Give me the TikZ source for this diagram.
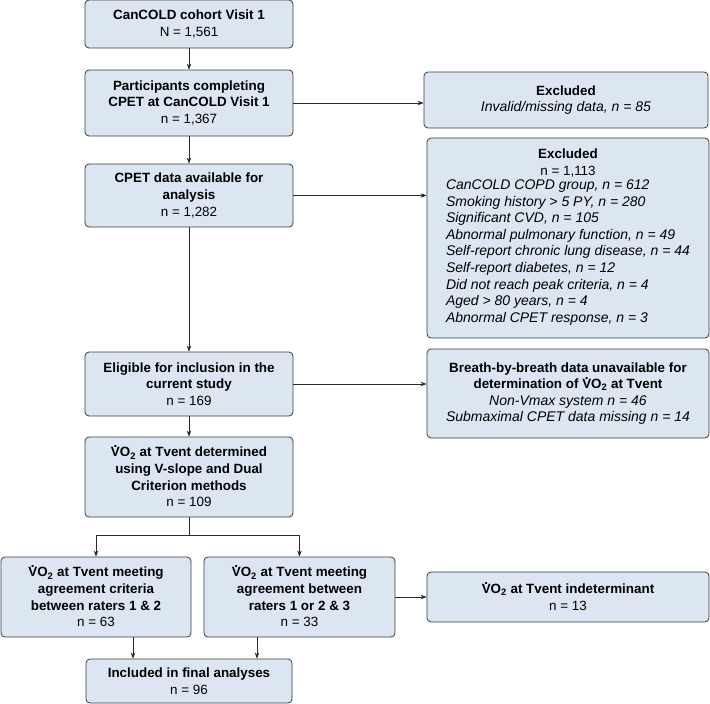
\documentclass[tikz,border=0pt]{standalone}
\usepackage{fontspec}
\setmainfont{Liberation Sans}
\usetikzlibrary{arrows.meta,calc}
\definecolor{boxfill}{HTML}{DCE6F2}
\definecolor{boxline}{HTML}{3A3A3A}
\definecolor{arrline}{HTML}{2A2A2A}
\newcommand{\VO}{\leavevmode\rlap{\hbox to \fontcharwd\font`V{\hfil\smash{\raisebox{0.70em}{.}}\hfil}}VO\textsubscript{2}}
\newcommand{\itl}[1]{{\fontsize{14}{16.6}\selectfont\itshape #1}}
\tikzset{
  flowbox/.style={draw=boxline, fill=boxfill, line width=0.8pt, rounded corners=4pt,
    align=center, inner sep=2pt, font=\fontsize{13.4}{16.6}\selectfont},
  arr/.style={draw=arrline, line width=0.7pt, -{Stealth[length=6pt,width=4.5pt]}},
  ln/.style={draw=arrline, line width=0.7pt}
}
\begin{document}
\begin{tikzpicture}[x=1pt,y=-1pt]
\useasboundingbox (0,0) rectangle (710,704);
\node[flowbox, minimum width=208pt, minimum height=48pt] (b1) at (189,24)
  {\textbf{CanCOLD cohort Visit 1}\\N = 1,561};
\node[flowbox, minimum width=208pt, minimum height=66pt] (b2) at (189,103)
  {\textbf{Participants completing}\\\textbf{CPET at CanCOLD Visit 1}\\n = 1,367};
\node[flowbox, minimum width=208pt, minimum height=63pt] (b3) at (189,195.5)
  {\textbf{CPET data available for}\\\textbf{analysis}\\n = 1,282};
\node[flowbox, minimum width=284pt, minimum height=56pt] (ex1) at (566,100)
  {\textbf{Excluded}\\\itl{Invalid/missing data, n = 85}};
\node[flowbox, minimum width=282pt, minimum height=200pt] (ex2) at (568,238)
  {\textbf{Excluded}\\n = 1,113\\
   \begin{tabular}{@{}l@{}}
   \itl{CanCOLD COPD group, n = 612}\\
   \itl{Smoking history > 5 PY, n = 280}\\
   \itl{Significant CVD, n = 105}\\
   \itl{Abnormal pulmonary function, n = 49}\\
   \itl{Self-report chronic lung disease, n = 44}\\
   \itl{Self-report diabetes, n = 12}\\
   \itl{Did not reach peak criteria, n = 4}\\
   \itl{Aged > 80 years, n = 4}\\
   \itl{Abnormal CPET response, n = 3}
   \end{tabular}};
\node[flowbox, minimum width=208pt, minimum height=64pt] (el) at (189,384)
  {\textbf{Eligible for inclusion in the}\\\textbf{current study}\\n = 169};
\node[flowbox, minimum width=282pt, minimum height=89pt] (br) at (568,393.5)
  {\textbf{Breath-by-breath data unavailable for}\\\textbf{determination of \VO{} at Tvent}\\
   \itl{Non-Vmax system n = 46}\\\itl{Submaximal CPET data missing n = 14}};
\node[flowbox, minimum width=208pt, minimum height=80pt] (det) at (189,477)
  {\textbf{\VO{} at Tvent determined}\\\textbf{using V-slope and Dual}\\\textbf{Criterion methods}\\n = 109};
\node[flowbox, minimum width=190pt, minimum height=80pt] (L) at (96,597)
  {\textbf{\VO{} at Tvent meeting}\\\textbf{agreement criteria}\\\textbf{between raters 1 \& 2}\\n = 63};
\node[flowbox, minimum width=191pt, minimum height=80pt] (M) at (299.5,597)
  {\textbf{\VO{} at Tvent meeting}\\\textbf{agreement between}\\\textbf{raters 1 or 2 \& 3}\\n = 33};
\node[flowbox, minimum width=282pt, minimum height=50pt] (R) at (568,597)
  {\textbf{\VO{} at Tvent indeterminant}\\n = 13};
\node[flowbox, minimum width=206pt, minimum height=44pt] (fin) at (189,681)
  {\textbf{Included in final analyses}\\n = 96};
\coordinate (xa) at (133,0);
\coordinate (xb) at (257,0);
\draw[arr] (b1) -- (b2);
\draw[arr] (b2) -- (b3);
\draw[arr] (b3) -- (el);
\draw[arr] (el) -- (det);
\draw[arr] (b2.east) -- (b2.east -| ex1.west);
\draw[arr] (b3.east) -- (b3.east -| ex2.west);
\draw[arr] (el.east) -- (el.east -| br.west);
\draw[ln] (det.south) -- ++(0,18) coordinate (split);
\draw[arr] (split) -| (L.north);
\draw[arr] (split) -| (M.north);
\draw[arr] (M.east) -- (R.west);
\draw[arr] (L.south -| xa) -- (fin.north -| xa);
\draw[arr] (M.south -| xb) -- (fin.north -| xb);
\end{tikzpicture}
\end{document}
